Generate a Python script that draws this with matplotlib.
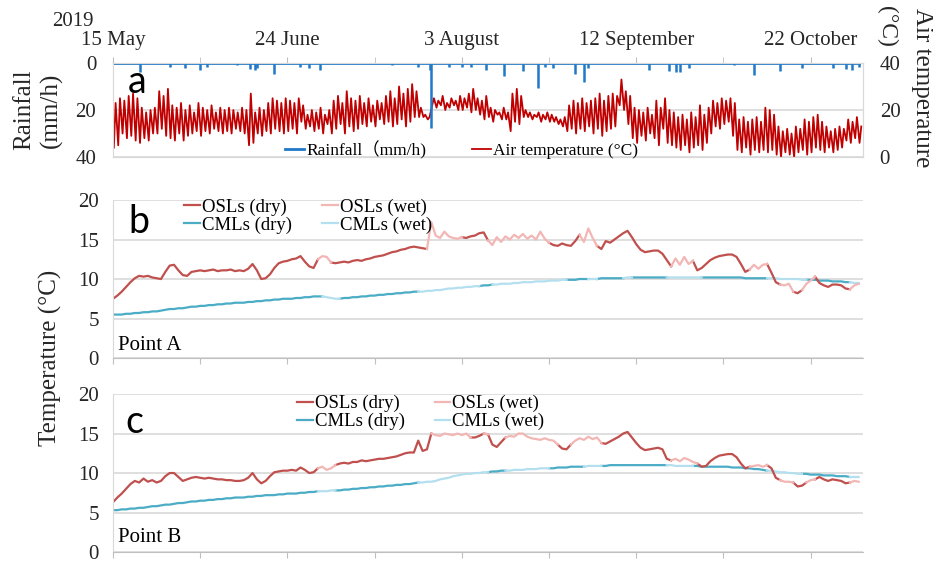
import numpy as np
import matplotlib
matplotlib.use('Agg')
from matplotlib import pyplot as plt

plt.rcParams['font.family'] = ['Liberation Serif', 'Noto Sans CJK SC']

# ---- data (day 0 = 15 May 2019) ----
tick_days = [0, 40, 80, 120, 160]
tick_labels = ['15 May', '24 June', '3 August', '12 September', '22 October']
minor_days = [20, 60, 100, 140]

air_hi = [23, 25, 24, 26, 27, 25, 21, 19, 20, 21,
          28, 26, 29, 22, 21, 23, 20, 22, 19, 23,
          21, 20, 22, 19, 21, 20, 21, 20, 19, 21,
          20, 27, 19, 21, 20, 23, 25, 24, 23, 25,
          24, 23, 25, 22, 18, 20, 19, 21, 18, 20,
          24, 26, 23, 28, 25, 24, 26, 23, 25, 22,
          24, 23, 26, 28, 25, 30, 27, 29, 31, 28,
          21, 18, 17, 25, 24, 26, 23, 25, 24, 26,
          25, 27, 29, 25, 24, 26, 21, 20, 19, 21,
          19, 27, 29, 26, 20, 19, 18, 19, 18, 19,
          18, 17, 16, 17, 22, 24, 23, 25, 23, 24,
          25, 27, 24, 26, 27, 26, 33, 28, 26, 21,
          20, 19, 21, 18, 24, 21, 25, 20, 19, 17,
          18, 16, 19, 17, 22, 18, 21, 24, 23, 25,
          24, 25, 23, 16, 17, 15, 16, 17, 15, 21,
          20, 18, 13, 11, 12, 10, 13, 12, 16, 15,
          17, 18, 15, 13, 11, 12, 13, 12, 16, 15,
          17, 13]
air_lo = [4, 5, 10, 8, 9, 7, 6, 8, 7, 10,
          10, 12, 9, 8, 7, 10, 7, 9, 10, 11,
          9, 11, 10, 12, 11, 10, 11, 10, 12, 11,
          10, 5, 6, 10, 9, 11, 10, 12, 11, 10,
          11, 12, 10, 15, 12, 13, 11, 12, 10, 14,
          10, 12, 14, 10, 13, 11, 12, 14, 13, 15,
          13, 16, 14, 15, 13, 14, 16, 13, 15, 17,
          17, 17, 16, 22, 21, 22, 20, 21, 22, 20,
          20, 21, 19, 20, 18, 16, 17, 15, 18, 16,
          16, 11, 15, 14, 17, 17, 16, 17, 15, 16,
          15, 15, 14, 13, 11, 12, 10, 12, 11, 13,
          10, 12, 9, 11, 12, 13, 22, 20, 14, 8,
          6, 9, 7, 10, 8, 5, 12, 6, 5, 4,
          3, 5, 2, 4, 5, 3, 6, 10, 13, 12,
          14, 15, 9, 3, 2, 4, 1, 3, 2, 3,
          2, 3, 1, 0, 2, 1, 0, 2, 3, 1,
          2, 4, 3, 2, 4, 2, 3, 4, 7, 6,
          8, 6]

rain_day = [6.2, 13, 16.5, 20, 21.5, 28.5, 31.5, 32.5, 33, 37,
            43, 45, 47.5, 64, 70, 72.6, 73, 77, 80, 82,
            85.5, 89.7, 94, 97.5, 99, 101, 106, 108, 109, 123,
            127.5, 129, 130, 132, 142.5, 147, 153, 158, 165, 168,
            169.5, 171]
rain_mm = [3.8, 1.5, 2, 3, 1.5, 1, 2.5, 3, 2, 4.5,
           1.5, 2, 3, 1, 1.5, 3, 27.7, 1.5, 1.5, 1.5,
           3, 5.5, 3.5, 10.7, 1.5, 2, 4.5, 8, 2, 3,
           3.5, 4, 4, 2, 0.7, 5, 3.5, 2, 2, 2.5,
           3, 1.5]

osl_a = [7.5, 7.9, 8.4, 9.0, 9.6, 10.1, 10.4, 10.3, 10.4, 10.2,
         10.1, 10.0, 10.9, 11.7, 11.8, 11.1, 10.5, 10.4, 10.9, 11.0,
         11.1, 11.0, 11.1, 11.2, 11.0, 11.1, 11.1, 11.2, 11.0, 11.1,
         11.0, 11.3, 11.9, 11.1, 10.0, 10.1, 10.6, 11.4, 12.0, 12.2,
         12.3, 12.5, 12.6, 12.9, 12.2, 11.6, 11.4, 12.5, 12.9, 12.8,
         12.1, 12.0, 12.1, 12.2, 12.1, 12.3, 12.4, 12.3, 12.5, 12.6,
         12.8, 12.9, 13.0, 13.2, 13.4, 13.5, 13.7, 13.8, 14.0, 14.1,
         14.0, 13.9, 13.8, 17.2, 15.5, 15.2, 16.0, 15.4, 15.2, 15.1,
         15.3, 15.2, 15.4, 15.5, 15.8, 15.9, 14.9, 14.3, 15.3, 14.7,
         15.4, 15.0, 15.6, 15.2, 15.7, 15.1, 15.5, 15.0, 16.0, 15.1,
         14.6, 14.3, 14.2, 14.5, 14.3, 14.2, 14.8, 15.6, 14.7, 16.4,
         15.2, 14.2, 13.8, 14.8, 14.6, 15.0, 15.4, 15.8, 16.1, 15.3,
         14.4, 13.7, 13.4, 13.5, 13.6, 13.6, 13.2, 12.4, 11.6, 12.6,
         11.8, 12.8, 11.9, 12.3, 11.1, 11.4, 11.9, 12.4, 12.7, 12.9,
         13.0, 13.1, 13.1, 12.8, 11.9, 10.9, 11.2, 11.8, 11.3, 11.8,
         11.9, 10.8, 9.6, 9.3, 9.2, 9.4, 8.4, 8.2, 8.6, 9.4,
         9.8, 10.3, 9.5, 9.2, 9.0, 9.3, 9.3, 9.2, 8.8, 8.7,
         9.2, 9.4]
cml_a = [5.5, 5.5, 5.5, 5.6, 5.6, 5.7, 5.7, 5.8, 5.8, 5.9,
         5.9, 6.0, 6.1, 6.2, 6.2, 6.3, 6.3, 6.4, 6.5, 6.5,
         6.6, 6.6, 6.7, 6.7, 6.8, 6.8, 6.9, 6.9, 7.0, 7.0,
         7.0, 7.1, 7.1, 7.2, 7.2, 7.3, 7.3, 7.4, 7.4, 7.5,
         7.5, 7.5, 7.6, 7.6, 7.7, 7.7, 7.8, 7.8, 7.8, 7.7,
         7.6, 7.5, 7.5, 7.6, 7.6, 7.7, 7.7, 7.8, 7.8, 7.9,
         7.9, 8.0, 8.0, 8.1, 8.1, 8.2, 8.2, 8.3, 8.3, 8.4,
         8.4, 8.4, 8.5, 8.5, 8.6, 8.6, 8.7, 8.8, 8.8, 8.9,
         8.9, 9.0, 9.0, 9.1, 9.1, 9.2, 9.2, 9.3, 9.3, 9.4,
         9.4, 9.4, 9.5, 9.5, 9.6, 9.6, 9.6, 9.7, 9.7, 9.7,
         9.8, 9.8, 9.8, 9.9, 9.9, 9.9, 9.9, 10.0, 10.0, 10.0,
         10.0, 10.0, 10.1, 10.1, 10.1, 10.1, 10.1, 10.1, 10.2, 10.2,
         10.2, 10.2, 10.2, 10.2, 10.2, 10.2, 10.2, 10.2, 10.2, 10.2,
         10.2, 10.2, 10.2, 10.2, 10.2, 10.2, 10.2, 10.2, 10.2, 10.2,
         10.2, 10.2, 10.2, 10.2, 10.2, 10.1, 10.1, 10.1, 10.1, 10.1,
         10.1, 10.1, 10.1, 10.0, 10.0, 10.0, 10.0, 10.0, 9.9, 9.9,
         9.9, 9.9, 9.8, 9.8, 9.8, 9.7, 9.7, 9.7, 9.6, 9.6,
         9.5, 9.5]
osl_b = [6.3, 6.9, 7.4, 8.0, 8.6, 9.0, 8.8, 9.3, 8.9, 9.1,
         8.8, 9.0, 9.6, 10.0, 10.0, 9.5, 9.0, 9.2, 9.4, 9.5,
         9.4, 9.3, 9.4, 9.3, 9.2, 9.2, 9.1, 9.1, 9.0, 9.0,
         9.1, 9.4, 10.0, 9.2, 8.7, 9.0, 9.6, 10.1, 10.2, 10.3,
         10.3, 10.4, 10.3, 10.7, 10.4, 10.0, 10.1, 10.6, 10.8, 10.4,
         10.6, 11.0, 11.2, 11.3, 11.2, 11.4, 11.4, 11.6, 11.5, 11.6,
         11.7, 11.8, 11.8, 11.9, 12.0, 12.1, 12.3, 12.5, 12.6, 12.6,
         14.1, 12.8, 13.0, 15.0, 14.8, 14.7, 15.0, 14.9, 14.8, 15.0,
         14.8, 15.0, 14.5, 14.5, 14.7, 15.0, 14.9, 13.6, 13.3, 13.9,
         14.5, 14.7, 14.6, 15.0, 15.0, 14.6, 14.4, 14.3, 14.2, 14.4,
         14.2, 14.1, 13.6, 13.1, 13.0, 13.6, 14.1, 14.4, 14.2, 14.6,
         14.3, 14.5, 13.8, 13.7, 14.0, 14.3, 14.6, 15.0, 15.2, 14.5,
         13.8, 13.2, 12.9, 13.0, 13.1, 13.2, 13.0, 11.8, 11.6, 11.8,
         11.5, 11.9, 11.7, 11.4, 11.2, 10.8, 10.9, 11.5, 11.9, 12.2,
         12.3, 12.4, 12.4, 12.0, 11.2, 10.6, 10.8, 10.9, 11.0, 10.8,
         11.0, 10.6, 9.4, 9.1, 8.9, 8.9, 8.8, 8.3, 8.4, 8.8,
         9.1, 9.2, 9.5, 9.2, 9.0, 9.2, 9.1, 9.0, 8.7, 8.8,
         9.0, 8.9]
cml_b = [5.3, 5.3, 5.4, 5.4, 5.5, 5.5, 5.6, 5.6, 5.7, 5.8,
         5.8, 5.9, 6.0, 6.0, 6.1, 6.2, 6.2, 6.3, 6.4, 6.4,
         6.5, 6.5, 6.6, 6.6, 6.7, 6.7, 6.8, 6.8, 6.9, 6.9,
         6.9, 7.0, 7.0, 7.1, 7.1, 7.2, 7.2, 7.2, 7.3, 7.3,
         7.4, 7.4, 7.4, 7.5, 7.5, 7.6, 7.6, 7.7, 7.7, 7.7,
         7.8, 7.8, 7.8, 7.9, 7.9, 8.0, 8.0, 8.1, 8.1, 8.2,
         8.2, 8.3, 8.3, 8.4, 8.4, 8.5, 8.5, 8.6, 8.6, 8.7,
         8.8, 8.8, 8.9, 8.9, 9.0, 9.2, 9.3, 9.4, 9.6, 9.7,
         9.8, 9.9, 9.9, 10.0, 10.0, 10.1, 10.1, 10.2, 10.2, 10.3,
         10.3, 10.3, 10.4, 10.4, 10.4, 10.5, 10.5, 10.5, 10.6, 10.6,
         10.6, 10.6, 10.7, 10.7, 10.7, 10.8, 10.8, 10.8, 10.8, 10.9,
         10.9, 10.9, 10.9, 10.9, 11.0, 11.0, 11.0, 11.0, 11.0, 11.0,
         11.0, 11.0, 11.0, 11.0, 11.0, 11.0, 11.0, 11.0, 11.0, 10.9,
         10.9, 10.9, 10.9, 10.9, 10.9, 10.8, 10.8, 10.8, 10.8, 10.8,
         10.8, 10.8, 10.7, 10.7, 10.7, 10.6, 10.6, 10.5, 10.5, 10.4,
         10.3, 10.3, 10.2, 10.1, 10.1, 10.0, 10.0, 9.9, 9.9, 9.9,
         9.8, 9.8, 9.8, 9.7, 9.7, 9.7, 9.6, 9.6, 9.6, 9.5,
         9.5, 9.5]

# wet periods, as (first day, last day)
osl_a_wet = [(47, 50), (72, 80), (86, 100), (107, 111), (128, 133),
             (146, 150), (153, 156), (158, 161), (169, 171)]
cml_a_wet = [(48, 52), (70, 84), (87, 104), (109, 111), (117, 119),
             (127, 135), (150, 159), (169, 171)]
osl_b_wet = [(47, 51), (73, 82), (85, 86), (90, 102), (105, 112),
             (128, 134), (146, 150), (153, 156), (159, 161), (169, 171)]
cml_b_wet = [(47, 51), (70, 86), (90, 100), (108, 112), (127, 133),
             (150, 158), (169, 171)]

# ---- styles ----
rain_color = '#1F78C8'
air_color = '#C00000'
osl_dry_color = '#C0504D'
osl_wet_color = '#F2B6B4'
cml_dry_color = '#4BACC6'
cml_wet_color = '#B4DFEE'
grid_color = '#D9D9D9'
text_color = '#262626'
panel_font = {'family': 'Lato', 'size': 27}


def split_wet(vals, wet_ranges):
    vals = np.asarray(vals, dtype=float)
    dry = vals.copy()
    wet = np.full_like(vals, np.nan)
    for a, b in wet_ranges:
        wet[a:b + 1] = vals[a:b + 1]
        dry[a + 1:b] = np.nan
    return dry, wet


def style_temp_axis(ax):
    ax.set_xlim(0, 172)
    ax.set_ylim(0, 20)
    ax.set_yticks([0, 5, 10, 15, 20])
    ax.set_xticks([0, 20, 40, 60, 80, 100, 120, 140, 160])
    ax.set_xticklabels([])
    ax.tick_params(axis='y', length=0, labelsize=15, labelcolor=text_color, pad=10)
    ax.tick_params(axis='x', length=4, color='#BFBFBF', direction='out')
    ax.grid(axis='y', color=grid_color, lw=1.2)
    ax.set_axisbelow(True)
    for side in ['top', 'right']:
        ax.spines[side].set_visible(False)
    ax.spines['left'].set_color(grid_color)
    ax.spines['bottom'].set_color('#BFBFBF')


def plot_point(ax, osl, osl_wet, cml, cml_wet):
    days = np.arange(len(osl))
    o_dry, o_wet = split_wet(osl, osl_wet)
    c_dry, c_wet = split_wet(cml, cml_wet)
    h1, = ax.plot(days, c_dry, color=cml_dry_color, lw=1.6, label='CMLs (dry)')
    h2, = ax.plot(days, c_wet, color=cml_wet_color, lw=1.6, label='CMLs (wet)')
    h3, = ax.plot(days, o_dry, color=osl_dry_color, lw=1.6, label='OSLs (dry)')
    h4, = ax.plot(days, o_wet, color=osl_wet_color, lw=1.6, label='OSLs (wet)')
    return [h3, h1, h4, h2]


fig = plt.figure(figsize=(9.33, 5.63), dpi=100)

# ---- panel a ----
ax_a = fig.add_axes([0.1211, 0.7211, 0.8039, 0.1670])
ax_t = ax_a.twinx()
ax_a.set_zorder(ax_t.get_zorder() + 1)
ax_a.patch.set_visible(False)

days = np.arange(len(air_hi))
t_air = np.column_stack((days + 0.2, days + 0.6)).ravel()
v_air = np.column_stack((air_lo, air_hi)).ravel()
h_air, = ax_t.plot(t_air, v_air, color=air_color, lw=1.3, label='Air temperature (°C)')
ax_t.set_ylim(0, 40)
ax_t.set_yticks([0, 20, 40])
ax_t.tick_params(axis='y', length=0, labelsize=15, labelcolor=text_color, pad=12)
ax_t.grid(axis='y', color=grid_color, lw=1.2)

h_rain, = ax_a.plot([0, days[-1]], [0, 0], color=rain_color, lw=2, label='Rainfall（mm/h)')
ax_a.vlines(rain_day, 0, rain_mm, color=rain_color, lw=1.8)
ax_a.set_ylim(40, 0)
ax_a.set_yticks([0, 20, 40])
ax_a.set_xlim(0, 172)
ax_a.tick_params(axis='y', length=0, labelsize=15, labelcolor=text_color, pad=12)
ax_a.xaxis.tick_top()
ax_a.set_xticks(tick_days)
ax_a.set_xticklabels(tick_labels)
ax_a.set_xticks(minor_days, minor=True)
ax_a.tick_params(axis='x', which='both', length=4, color='#BFBFBF',
                 labelsize=15, labelcolor=text_color, pad=5)
for axx in (ax_a, ax_t):
    for side in axx.spines:
        axx.spines[side].set_color(grid_color)

ax_a.legend([h_rain, h_air], ['Rainfall（mm/h)', 'Air temperature (°C)'],
            loc='center left', bbox_to_anchor=(0.229, 0.075), ncol=2,
            frameon=False, fontsize=12.5, handlelength=1.1, handletextpad=0.15,
            columnspacing=2.6, borderpad=0, borderaxespad=0)
ax_a.text(0.02, 0.80, 'a', transform=ax_a.transAxes, ha='left', va='center',
          fontdict=panel_font, color='black')

# ---- panel b ----
ax_b = fig.add_axes([0.1211, 0.3641, 0.8039, 0.2806])
style_temp_axis(ax_b)
hb = plot_point(ax_b, osl_a, osl_a_wet, cml_a, cml_a_wet)
ax_b.legend(hb, [h.get_label() for h in hb], loc='upper left',
            bbox_to_anchor=(0.095, 1.01), ncol=2, frameon=False, fontsize=13.5,
            handlelength=0.85, handletextpad=0.1, columnspacing=1.6,
            labelspacing=0.05, borderpad=0, borderaxespad=0)
ax_b.text(0.02, 0.86, 'b', transform=ax_b.transAxes, ha='left', va='center',
          fontdict=panel_font, color='black')
ax_b.text(0.007, 0.08, 'Point A', transform=ax_b.transAxes, ha='left', va='center',
          fontsize=15, color='black')

# ---- panel c ----
ax_c = fig.add_axes([0.1211, 0.0195, 0.8039, 0.2806])
style_temp_axis(ax_c)
hc = plot_point(ax_c, osl_b, osl_b_wet, cml_b, cml_b_wet)
ax_c.legend(hc, [h.get_label() for h in hc], loc='upper left',
            bbox_to_anchor=(0.245, 0.995), ncol=2, frameon=False, fontsize=13.5,
            handlelength=0.85, handletextpad=0.1, columnspacing=1.6,
            labelspacing=0.05, borderpad=0, borderaxespad=0)
ax_c.text(0.017, 0.82, 'c', transform=ax_c.transAxes, ha='left', va='center',
          fontdict=panel_font, color='black')
ax_c.text(0.007, 0.09, 'Point B', transform=ax_c.transAxes, ha='left', va='center',
          fontsize=15, color='black')

# ---- figure texts ----
fig.text(73 / 933, 1 - 21 / 563, '2019', ha='center', va='center', fontsize=15,
         color=text_color)
fig.text(38 / 933, 1 - 110 / 563, 'Rainfall\n(mm/h)', rotation=90, ha='center',
         va='center', fontsize=18, linespacing=1.25, color=text_color)
fig.text(922 / 933, 1 - 8 / 563, 'Air temperature', rotation=270, ha='center',
         va='top', fontsize=18, color=text_color)
fig.text(887 / 933, 1 - 6 / 563, '(°C)', rotation=270, ha='center',
         va='top', fontsize=17, color=text_color)
fig.text(50 / 933, 1 - 358 / 563, 'Temperature (°C)', rotation=90, ha='center',
         va='center', fontsize=18, color=text_color)

fig.savefig('out.png', dpi=100)
